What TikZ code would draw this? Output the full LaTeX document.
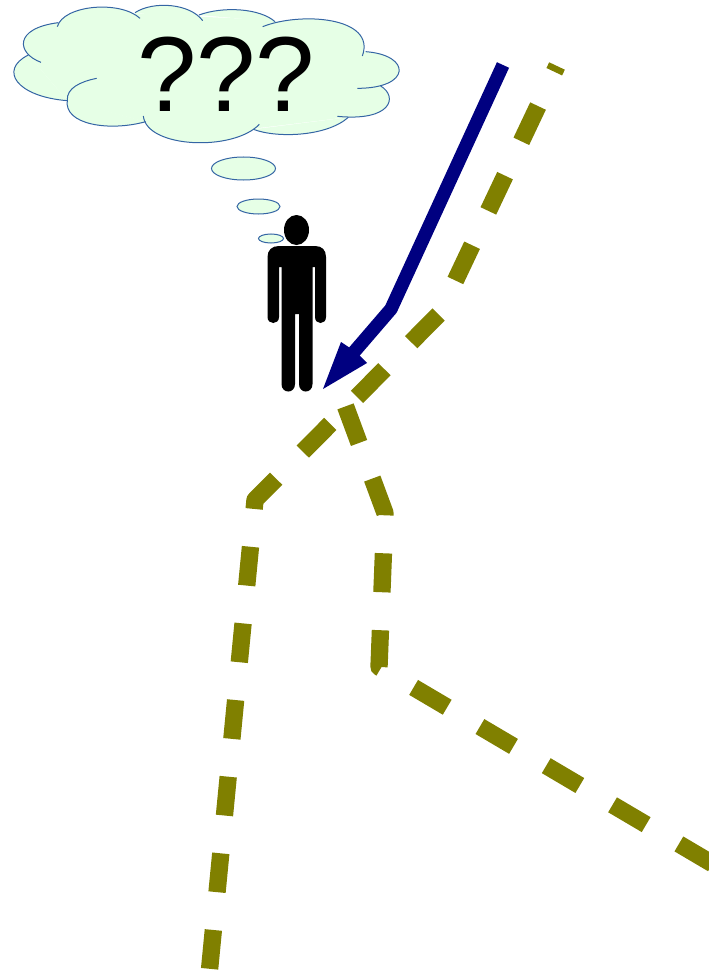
\documentclass[tikz,border=0pt]{standalone}
\usepackage{fontspec}
\setmainfont{Liberation Sans}
\definecolor{cloudfill}{HTML}{E6FFE6}
\definecolor{cloudline}{HTML}{3465A4}
\definecolor{pathol}{HTML}{808000}
\definecolor{arrownavy}{HTML}{000080}
\tikzset{
  cloudpart/.style={fill=cloudfill,draw=cloudline,line width=0.75pt},
  dashroute/.style={draw=pathol,line width=13pt,line join=round,dash pattern=on 29.25pt off 28.5pt},
  navyline/.style={draw=arrownavy,line width=10pt,line join=round},
  figure/.style={fill=black}
}
\begin{document}
\begin{tikzpicture}[x=0.75pt,y=-0.75pt]
\useasboundingbox (0,0) rectangle (709,970);
\clip (0,0) rectangle (709,970);
% cloud (coordinates in 3x zoomed pixels)
\begin{scope}[x=0.25pt,y=-0.25pt]
\def\lobes{
 172/80/190/15/360/0/420/55,
 405/38/460/2/570/10/608/62,
 597/45/670/18/780/25/825/65,
 788/80/900/35/1130/50/1087/168,
 1097/155/1235/165/1235/265/1072/265,
 1142/258/1195/290/1175/365/1012/349,
 1045/352/980/410/830/415/760/388,
 778/373/700/455/440/445/430/348,
 437/365/330/395/190/375/202/300,
 202/302/50/290/-5/210/85/165,
 123/187/50/160/40/85/175/68}
\foreach \ax/\ay/\bx/\by/\cx/\cy/\dx/\dy in \lobes {
  \fill[cloudfill] (\ax,\ay) .. controls (\bx,\by) and (\cx,\cy) .. (\dx,\dy) -- cycle;
}
\fill[cloudfill] (174,70) -- (410,40) -- (600,50) -- (815,60) -- (1095,155) -- (1140,258) -- (1040,352) -- (768,385) -- (435,365) -- (202,302) -- (85,165) -- cycle;
\foreach \ax/\ay/\bx/\by/\cx/\cy/\dx/\dy in \lobes {
  \draw[draw=cloudline,line width=0.75pt] (\ax,\ay) .. controls (\bx,\by) and (\cx,\cy) .. (\dx,\dy);
}
\draw[draw=cloudline,line width=0.75pt] (202,300) .. controls (200,265) and (240,245) .. (290,235);
\end{scope}
\node[anchor=base,inner sep=0pt,font=\fontsize{80pt}{80pt}\selectfont] (qmarks) at (226,112) {???};
\draw[cloudpart] (243.5,168.5) ellipse [x radius=32,y radius=11.5];
\draw[cloudpart] (258.5,206.5) ellipse [x radius=21.5,y radius=7.5];
\draw[cloudpart] (271,238.5) ellipse [x radius=12.5,y radius=4.5];
% person
\fill[figure] (296.5,230) ellipse [x radius=12.5,y radius=15];
\fill[figure] (279,246) -- (315,246)
  .. controls (322,246) and (326,250) .. (326,257) -- (326,317)
  .. controls (326,325) and (315,325) .. (315,317) -- (315,267) -- (312.5,267)
  -- (312.5,384) .. controls (312.5,394) and (299,394) .. (299,384) -- (299,314) -- (295,314)
  -- (295,384) .. controls (295,394) and (281.5,394) .. (281.5,384) -- (281.5,267) -- (279,267)
  -- (279,317) .. controls (279,325) and (267.5,325) .. (267.5,317) -- (267.5,257)
  .. controls (267.5,250) and (272,246) .. (279,246) -- cycle;
% navy arrow
\coordinate (nA) at (503,65);
\coordinate (nB) at (391,309);
\coordinate (nC) at (354,352);
\draw[navyline] (nA) -- (nB) -- (nC);
\fill[arrownavy] (323,389) -- (341,342) -- (350,348) -- (359,355) -- (367,363) -- cycle;
% olive routes
\coordinate (r0) at (557,66);
\coordinate (r1) at (440,313);
\coordinate (r2) at (255,500);
\coordinate (r3) at (209,975);
\coordinate (s0) at (345,405);
\coordinate (s1) at (385,513);
\coordinate (s2) at (379,667);
\coordinate (s3) at (740,880);
\draw[dashroute,dash phase=24.5pt] (r0) -- (r1) -- (r2) -- (r3);
\draw[dashroute,dash phase=56.65pt] (s0) -- (s1) -- (s2) -- (s3);
\end{tikzpicture}
\end{document}
